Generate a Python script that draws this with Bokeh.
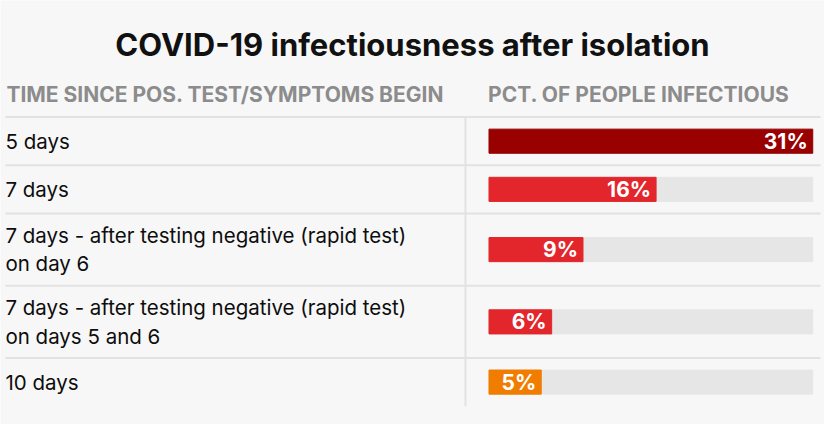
from bokeh.plotting import figure
from bokeh.models import Range1d, ColumnDataSource
from bokeh.core.properties import value
from bokeh.embed import file_html
from bokeh.resources import INLINE

title = "COVID-19 infectiousness after isolation"
header_left = "TIME SINCE POS. TEST/SYMPTOMS BEGIN"
header_right = "PCT. OF PEOPLE INFECTIOUS"
categories = [
    "5 days",
    "7 days",
    "7 days - after testing negative (rapid test)\non day 6",
    "7 days - after testing negative (rapid test)\non days 5 and 6",
    "10 days",
]
pct = [31, 16, 9, 6, 5]
colors = ["#990000", "#e3262b", "#e3262b", "#e3262b", "#f07d00"]

W, H = 824, 424
RW, RH = 840, 440  # reference layout space
BG = "#f7f7f7"
FONT = "Inter"

p = figure(width=W, height=H, output_backend="svg", toolbar_location=None,
           x_range=Range1d(0, RW), y_range=Range1d(RH, 0),
           min_border=0, outline_line_color=None,
           background_fill_color=BG, border_fill_color=BG)
p.axis.visible = False
p.grid.visible = False

# percent range so that 0 -> x 498 and max -> x 828 (layout space)
vmax = max(pct)
ppx = (828 - 498) / vmax
p.extra_x_ranges = {"pct": Range1d(-498 / ppx, vmax + (RW - 828) / ppx)}

# rows
top = 121
tops, centers = [], []
for c in categories:
    h = 25 + 25 * (c.count("\n") + 1)
    tops.append(top)
    centers.append(top + h / 2)
    top += h
bottom = top

# separators
p.segment(x0=[5] * len(tops), x1=[836] * len(tops), y0=tops, y1=tops,
          line_color="#e2e2e2", line_width=2)
p.segment(x0=[474], x1=[474], y0=[tops[0]], y1=[bottom], line_color="#e2e2e2", line_width=2)

src = ColumnDataSource(dict(cat=categories, pct=pct, y=centers, color=colors,
                            lab=[f"{v}%" for v in pct], track=[vmax] * len(pct)))

p.hbar(y="y", left=0, right="track", height=25, color="#e6e6e6", source=src, x_range_name="pct")
p.hbar(y="y", left=0, right="pct", height=25, color="color", source=src, x_range_name="pct")
p.text(x="pct", y="y", text="lab", source=src, x_range_name="pct", x_offset=-5,
       text_align="right", text_baseline="middle", text_color="white",
       text_font=value(FONT), text_font_style="bold", text_font_size="21px")

p.text(x=5, y="y", text="cat", source=src, text_align="left", text_baseline="middle",
       text_color="#0d0d0d", text_font=value(FONT), text_font_size="20.5px",
       text_line_height=1.15)

# title & headers
p.text(x=[420], y=[46], text=[title], text_align="center", text_baseline="middle",
       text_color="#111111", text_font=value(FONT), text_font_style="bold",
       text_font_size="31px")
p.text(x=[6], y=[98], text=[header_left], text_align="left", text_baseline="middle",
       text_color="#8c8c8c", text_font=value(FONT), text_font_style="bold",
       text_font_size="21px")
p.text(x=[497], y=[98], text=[header_right], text_align="left", text_baseline="middle",
       text_color="#8c8c8c", text_font=value(FONT), text_font_style="bold",
       text_font_size="21px")

open("out.html", "w").write(file_html(p, INLINE))
